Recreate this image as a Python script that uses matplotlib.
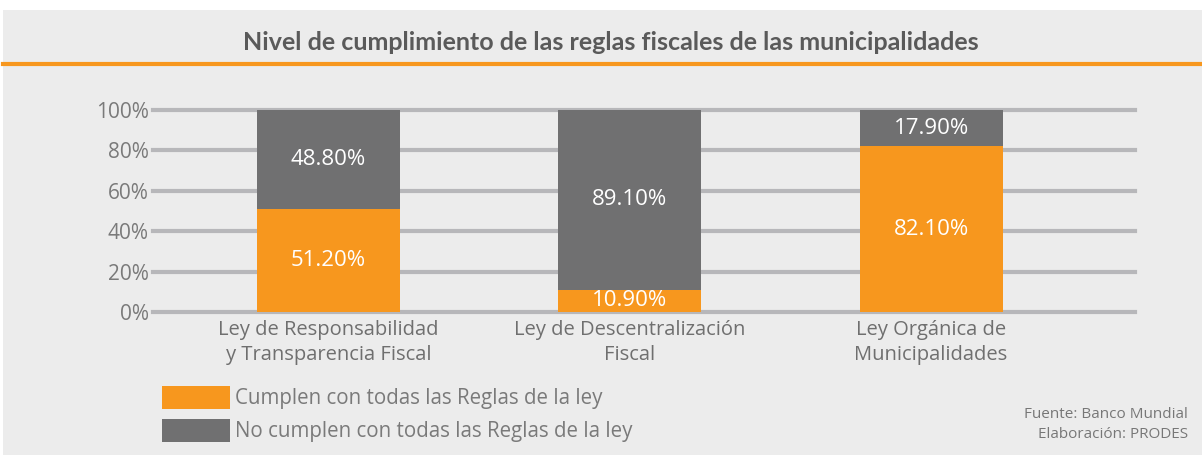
import matplotlib
matplotlib.use("Agg")
import matplotlib.pyplot as plt
from matplotlib.patches import Rectangle
from matplotlib.lines import Line2D
import numpy as np

title = "Nivel de cumplimiento de las reglas fiscales de las municipalidades"
categories = ["Ley de Responsabilidad\ny Transparencia Fiscal",
              "Ley de Descentralización\nFiscal",
              "Ley Orgánica de\nMunicipalidades"]
cumplen = [51.2, 10.9, 82.1]
no_cumplen = [48.8, 89.1, 17.9]
series_names = ["Cumplen con todas las Reglas de la ley",
                "No cumplen con todas las Reglas de la ley"]
yticks = [0, 20, 40, 60, 80, 100]
ytick_labels = ["0%", "20%", "40%", "60%", "80%", "100%"]
source_lines = ["Fuente: Banco Mundial", "Elaboración: PRODES"]

ORANGE = "#f7971e"
GRAY = "#707071"
BG = "#ececec"
TXT = "#6f6f6f"

W, H = 1202, 455
fig = plt.figure(figsize=(W / 100, H / 100), dpi=100)
fig.patch.set_facecolor("white")

# background panel
fig.add_artist(Rectangle((3 / W, 0), 1 - 3 / W, (H - 10) / H,
                         transform=fig.transFigure, facecolor=BG,
                         edgecolor="none", zorder=0))
# orange rule under title
fig.add_artist(Line2D([3 / W, 1], [(H - 64) / H] * 2, transform=fig.transFigure,
                      color=ORANGE, linewidth=3, zorder=1))
fig.text(611 / W, (H - 42) / H, title, ha="center", va="center",
         fontsize=18, fontweight="bold", color="#5a5a5a", family="Lato")

ax = fig.add_axes([153 / W, (H - 312) / H, (1135 - 153) / W, (312 - 110) / H])
ax.set_facecolor("none")
x = np.arange(len(categories))
bw = 0.475
b1 = ax.bar(x, cumplen, bw, color=ORANGE, label=series_names[0], zorder=3)
b2 = ax.bar(x, no_cumplen, bw, bottom=cumplen, color=GRAY,
            label=series_names[1], zorder=3)

for rect, v in zip(b1, cumplen):
    ax.text(rect.get_x() + rect.get_width() / 2, v / 2, f"{v:.2f}%",
            ha="center", va="center", color="white", fontsize=16,
            family="Open Sans", zorder=4)
for rect, b, v in zip(b2, cumplen, no_cumplen):
    ax.text(rect.get_x() + rect.get_width() / 2, b + v / 2, f"{v:.2f}%",
            ha="center", va="center", color="white", fontsize=16,
            family="Open Sans", zorder=4)

ax.set_xlim(-0.583, 2.677)
ax.set_ylim(0, 100)
ax.set_yticks(yticks)
ax.set_yticklabels(ytick_labels, family="Open Sans", fontsize=15, color="#7a7a7a")
ax.set_xticks(x)
ax.set_xticklabels(categories, family="Open Sans", fontsize=14.5, color=TXT,
                   linespacing=1.3)
ax.tick_params(axis="both", length=0)
ax.tick_params(axis="y", pad=3)
ax.tick_params(axis="x", pad=6)
for s in ax.spines.values():
    s.set_visible(False)
ax.yaxis.grid(True, color="#b7b7ba", linewidth=3, zorder=1)
ax.set_axisbelow(True)
for gl in ax.get_ygridlines():
    gl.set_clip_on(False)

leg = fig.legend(handles=[b1, b2], labels=series_names, loc="upper left",
                 bbox_to_anchor=(162 / W, (H - 386) / H), frameon=False,
                 prop={"family": "Open Sans", "size": 14.8},
                 handlelength=3.3, handleheight=1.35, handletextpad=0.25,
                 labelspacing=0.45, borderpad=0, borderaxespad=0)
for t in leg.get_texts():
    t.set_color("#7a7a7a")

fig.text(1188 / W, (H - 414) / H, source_lines[0], ha="right", va="center",
         fontsize=11, color="#777777", family="Open Sans")
fig.text(1188 / W, (H - 434) / H, source_lines[1], ha="right", va="center",
         fontsize=11, color="#777777", family="Open Sans")

fig.savefig("out.png", dpi=100, facecolor=fig.get_facecolor())
